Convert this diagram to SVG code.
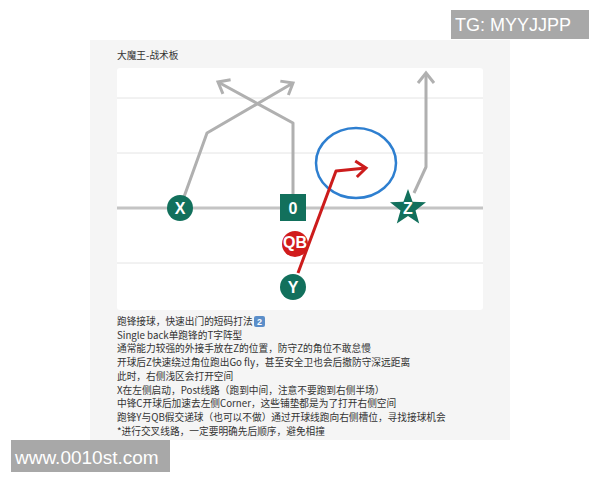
<svg xmlns="http://www.w3.org/2000/svg" width="600" height="480" viewBox="0 0 600 480">
<style>
.txt{font-family:"Noto Sans CJK SC","Liberation Sans",sans-serif;font-size:9.7px;fill:#333}
.yard{stroke:#e4e4e4;stroke-width:1}
.route{fill:none;stroke:#b0b0b0;stroke-width:3;stroke-linejoin:round}
.red{fill:none;stroke:#cc1c1c;stroke-width:3;stroke-linejoin:round}
.player{fill:#12705c}
.lbl{font-family:"Liberation Sans",sans-serif;font-weight:bold;font-size:16px;fill:#fff;text-anchor:middle}
.wm{font-family:"Liberation Sans",sans-serif;fill:#fff}
</style>
<defs>
<marker id="ag" markerUnits="userSpaceOnUse" markerWidth="30" markerHeight="30" refX="0" refY="0" viewBox="-15 -15 30 30" orient="auto">
<path d="M-10,-8 L0,0 L-10,8" fill="none" stroke="#b0b0b0" stroke-width="3" stroke-linejoin="miter"/>
</marker>
<marker id="ar" markerUnits="userSpaceOnUse" markerWidth="30" markerHeight="30" refX="0" refY="0" viewBox="-15 -15 30 30" orient="auto">
<path d="M-10,-8 L0,0 L-10,8" fill="none" stroke="#cc1c1c" stroke-width="3" stroke-linejoin="miter"/>
</marker>
</defs>
<rect width="600" height="480" fill="#fff"/>
<rect x="90" y="40" width="420" height="400" fill="#f5f5f5"/>
<text class="txt" x="117" y="59">大魔王-战术板</text>
<rect x="117" y="68" width="366" height="242" rx="3" fill="#fff"/>
<g id="field">
<line class="yard" x1="117" y1="98" x2="483" y2="98"/>
<line class="yard" x1="117" y1="153" x2="483" y2="153"/>
<line class="yard" x1="117" y1="263" x2="483" y2="263"/>
<line x1="117" y1="208" x2="483" y2="208" stroke="#c4c4c4" stroke-width="3"/>
</g>
<g id="connectors">
<polyline class="route" points="180,208 207,133 293,83" marker-end="url(#ag)"/>
<polyline class="route" points="293,194 293,123 218,82" marker-end="url(#ag)"/>
<polyline class="route" points="414,193 426,167 426,73" marker-end="url(#ag)"/>
<ellipse cx="356" cy="163" rx="40" ry="35" fill="none" stroke="#2e7fd0" stroke-width="2.5"/>
</g>
<g id="X"><circle class="player" cx="180" cy="208" r="13"/><text class="lbl" x="180" y="214">X</text></g>
<g id="C"><rect class="player" x="280" y="194" width="26" height="27"/><text class="lbl" x="293" y="214" font-size="17">0</text></g>
<g id="Z"><polygon class="player" points="408,189 412.6,201.7 426,202.2 415.5,210.5 419.2,223.4 408,216 396.8,223.4 400.5,210.5 390,202.2 403.4,201.7"/><text class="lbl" x="408" y="214">Z</text></g>
<g id="QB"><circle cx="295" cy="244" r="13" fill="#d11c1c"/><text class="lbl" x="295" y="248" font-size="11">QB</text></g>
<g id="Y"><circle class="player" cx="293" cy="287" r="13"/><text class="lbl" x="293" y="293">Y</text></g>
<g id="red-route">
<polyline class="red" points="298,273 336,171 366,168" marker-end="url(#ar)"/>
</g>
<g id="notes">
<text class="txt" x="117" y="325">跑锋接球，快速出门的短码打法</text>
<rect x="254" y="316" width="11" height="11" rx="2" fill="#5b8ec9"/>
<text x="259.5" y="325" font-family="Liberation Sans,sans-serif" font-size="9" font-weight="bold" fill="#fff" text-anchor="middle">2</text>
<text class="txt" x="117" y="338.7">Single back单跑锋的T字阵型</text>
<text class="txt" x="117" y="352.4">通常能力较强的外接手放在Z的位置，防守Z的角位不敢怠慢</text>
<text class="txt" x="117" y="366.1">开球后Z快速绕过角位跑出Go fly，甚至安全卫也会后撤防守深远距离</text>
<text class="txt" x="117" y="379.8">此时，右侧浅区会打开空间</text>
<text class="txt" x="117" y="393.5">X在左侧启动，Post线路（跑到中间，注意不要跑到右侧半场）</text>
<text class="txt" x="117" y="407.2">中锋C开球后加速去左侧Corner，这些铺垫都是为了打开右侧空间</text>
<text class="txt" x="117" y="420.9">跑锋Y与QB假交递球（也可以不做）通过开球线跑向右侧槽位，寻找接球机会</text>
<text class="txt" x="117" y="434.6">*进行交叉线路，一定要明确先后顺序，避免相撞</text>
</g>
<g id="watermarks">
<rect x="451" y="10" width="138" height="29" fill="#a8a8a8"/>
<text class="wm" x="455" y="31" font-size="18">TG: MYYJJPP</text>
<rect x="11" y="440" width="159" height="32" fill="#a8a8a8"/>
<text class="wm" x="15" y="464" font-size="19">www.0010st.com</text>
</g>
</svg>
